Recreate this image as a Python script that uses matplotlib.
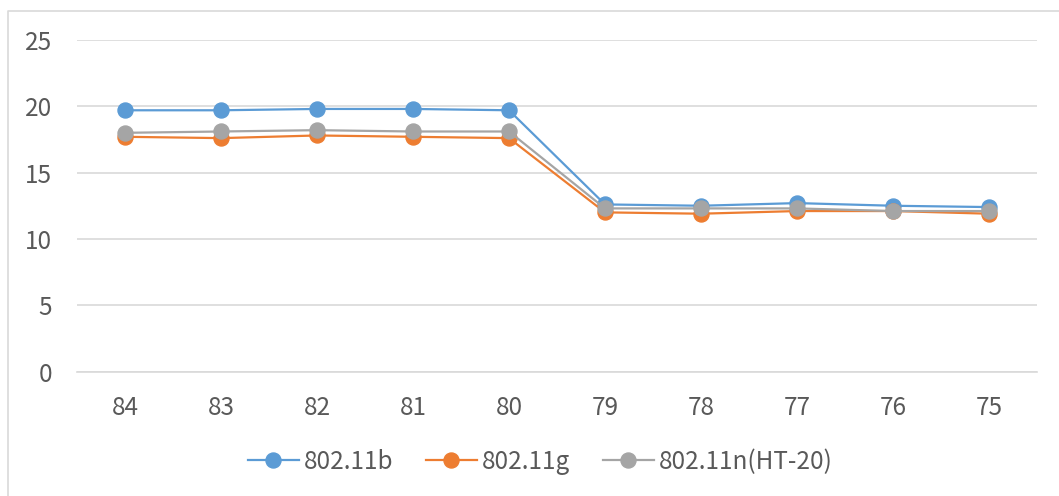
import matplotlib.pyplot as plt
from matplotlib.lines import Line2D

# channel / signal data
categories = ['84', '83', '82', '81', '80', '79', '78', '77', '76', '75']
b_vals = [19.7, 19.7, 19.8, 19.8, 19.7, 12.6, 12.5, 12.7, 12.5, 12.4]
g_vals = [17.7, 17.6, 17.8, 17.7, 17.6, 12.0, 11.9, 12.1, 12.1, 11.9]
n_vals = [18.0, 18.1, 18.2, 18.1, 18.1, 12.3, 12.3, 12.3, 12.1, 12.1]
series_names = ['802.11b', '802.11g', '802.11n(HT-20)']
colors = ['#5B9BD5', '#ED7D31', '#A5A5A5']
yticks = [0, 5, 10, 15, 20, 25]

plt.rcParams['font.family'] = ['Noto Sans CJK TC', 'DejaVu Sans']
text_col = '#595959'
fs = 17.5

fig = plt.figure(figsize=(10.59, 4.96), dpi=100)
ax = fig.add_axes([77 / 1059, 1 - 371.5 / 496, 960 / 1059, 331.5 / 496])

# chart border (only top and left edges are inside the picture)
fig.lines.append(Line2D([7.5 / 1059, 7.5 / 1059, 1.0], [0.0, 1 - 10.5 / 496, 1 - 10.5 / 496],
                        transform=fig.transFigure, color='#d9d9d9', linewidth=1.2))

x = range(len(categories))
for vals, name, c in zip([b_vals, g_vals, n_vals], series_names, colors):
    ax.plot(x, vals, color=c, linewidth=1.6, marker='o', markersize=10.8,
            label=name)

ax.set_xlim(-0.5, len(categories) - 0.5)
ax.set_ylim(0, 25)
ax.set_yticks(yticks)
ax.set_xticks(list(x))
ax.set_xticklabels(categories)
ax.grid(axis='y', color='#d9d9d9', linewidth=1.2)
ax.set_axisbelow(True)
for s in ['top', 'right', 'left']:
    ax.spines[s].set_visible(False)
ax.spines['bottom'].set_color('#d9d9d9')
ax.spines['bottom'].set_linewidth(1.2)
ax.tick_params(length=0, colors=text_col, labelsize=fs)
ax.tick_params(axis='y', pad=18)
ax.tick_params(axis='x', pad=17)

leg = fig.legend(loc='center', bbox_to_anchor=(540 / 1059, 1 - 462 / 496), ncol=3,
                 frameon=False, fontsize=fs, handlelength=2.1,
                 columnspacing=1.35, handletextpad=0.2)
for t in leg.get_texts():
    t.set_color(text_col)

fig.savefig('out.png', dpi=100)
